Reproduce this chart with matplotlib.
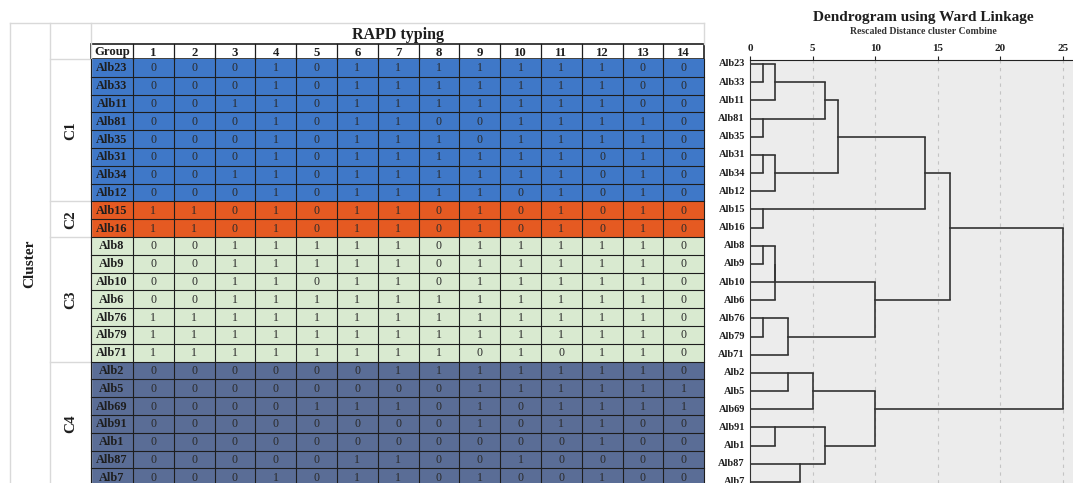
"""RAPD typing table + Ward dendrogram."""
import math

import matplotlib
matplotlib.use("Agg")
import matplotlib.pyplot as plt
from matplotlib.patches import Rectangle

plt.rcParams["font.family"] = ["Liberation Serif", "DejaVu Serif"]

# ---- data -------------------------------------------------------------
groups = ["Alb23", "Alb33", "Alb11", "Alb81", "Alb35", "Alb31", "Alb34", "Alb12",
          "Alb15", "Alb16",
          "Alb8", "Alb9", "Alb10", "Alb6", "Alb76", "Alb79", "Alb71",
          "Alb2", "Alb5", "Alb69", "Alb91", "Alb1", "Alb87", "Alb7"]
cluster_names = ["C1", "C2", "C3", "C4"]
cluster_sizes = [8, 2, 7, 7]
markers = list(range(1, 15))
rapd = [
    "00010111111100", "00010111111100", "00110111111100", "00010110011110",
    "00010111011110", "00010111111010", "00110111111010", "00010111101010",
    "11010110101010", "11010110101010",
    "00111110111110", "00111110111110", "00110110111110", "00111111111110",
    "11111111111110", "11111111111110", "11111111010110",
    "00000011111110", "00000000111111", "00001110101111", "00000000101100",
    "00000000000100", "00000110010000", "00010110100100",
]
# Ward merges: (node_a, node_b, rescaled distance); leaves are 0..23, new clusters 24..
merges = [
    (0, 1, 1), (24, 2, 2), (3, 4, 1), (25, 26, 6), (5, 6, 1), (28, 7, 2),
    (27, 29, 7), (8, 9, 1), (30, 31, 14), (10, 11, 1), (33, 12, 2), (34, 13, 2),
    (14, 15, 1), (36, 16, 3), (35, 37, 10), (32, 38, 16), (17, 18, 3), (40, 19, 5),
    (20, 21, 2), (22, 23, 4), (42, 43, 6), (41, 44, 10), (39, 45, 25),
]
dist_ticks = [0, 5, 10, 15, 20, 25]

# ---- style ------------------------------------------------------------
CLUSTER_COLORS = ["#3f78c8", "#e55a22", "#d9ead0", "#5a6d96"]
FRAME = "#d9d9d9"
INK = "#1e1e1e"
W, H = 1073, 483

fig = plt.figure(figsize=(W / 100, H / 100), dpi=100)
ax = fig.add_axes([0, 0, 1, 1])
ax.set_xlim(0, W)
ax.set_ylim(H, 0)
ax.axis("off")

# table geometry (pixels)
X_CL0, X_CL1, X_GRP = 10, 50, 91
GRP_W, COL_W = 42, 40.8
TOP, HEAD_Y, ROW_Y0, ROW_H = 23, 44, 59, 17.8
X_END = X_GRP + GRP_W + COL_W * len(markers)

# light outer frame
for x in (X_CL0, X_CL1, X_GRP):
    ax.plot([x, x], [TOP, H + 5], color=FRAME, lw=1)
ax.plot([X_CL0, X_END], [TOP, TOP], color=FRAME, lw=1)
ax.plot([X_END, X_END], [TOP, HEAD_Y], color=FRAME, lw=1)
ax.plot([X_CL1, X_GRP], [ROW_Y0, ROW_Y0], color=FRAME, lw=1)

ax.text((X_GRP + X_END) / 2, HEAD_Y - 1, "RAPD typing", ha="center", va="bottom",
        fontsize=11.5, fontweight="bold", color=INK)
ax.text((X_CL0 + X_CL1) / 2, ROW_Y0 + ROW_H * 11.5, "Cluster", rotation=90,
        ha="center", va="center", fontsize=11, fontweight="bold", color=INK)

# header row
col_x = [X_GRP] + [X_GRP + GRP_W + COL_W * i for i in range(len(markers) + 1)]
ax.add_patch(Rectangle((X_GRP, HEAD_Y), X_END - X_GRP, ROW_Y0 - HEAD_Y,
                       facecolor="white", edgecolor=INK, lw=1.2))
ax.text(X_GRP + GRP_W / 2, (HEAD_Y + ROW_Y0) / 2 + 1, "Group", ha="center",
        va="center", fontsize=9.2, fontweight="bold", color=INK)
for i, m in enumerate(markers):
    ax.text(col_x[i + 1] + COL_W / 2, (HEAD_Y + ROW_Y0) / 2 + 1, str(m), ha="center",
            va="center", fontsize=9.2, fontweight="bold", color=INK)
for x in col_x[1:-1]:
    ax.plot([x, x], [HEAD_Y, ROW_Y0], color=INK, lw=0.9)

# body rows
row_color = []
for c, n in zip(CLUSTER_COLORS, cluster_sizes):
    row_color += [c] * n

start = 0
for name, n in zip(cluster_names, cluster_sizes):
    y0 = ROW_Y0 + ROW_H * start
    y1 = ROW_Y0 + ROW_H * (start + n)
    ax.plot([X_CL1, X_GRP], [y1, y1], color=FRAME, lw=1)
    ax.text((X_CL1 + X_GRP) / 2, (y0 + y1) / 2, name, rotation=90, ha="center",
            va="center", fontsize=11, fontweight="bold", color=INK)
    start += n

for r, (g, vals) in enumerate(zip(groups, rapd)):
    y = ROW_Y0 + ROW_H * r
    ax.add_patch(Rectangle((X_GRP, y), X_END - X_GRP, ROW_H,
                           facecolor=row_color[r], edgecolor="none"))
    ax.text(X_GRP + GRP_W / 2, y + ROW_H / 2 + 0.5, g, ha="center", va="center",
            fontsize=8.8, fontweight="bold", color=INK)
    for i, v in enumerate(vals):
        ax.text(col_x[i + 1] + COL_W / 2, y + ROW_H / 2 + 0.5, v, ha="center",
                va="center", fontsize=8.6, color="#2a2a2a")
    ax.plot([X_GRP, X_END], [y + ROW_H, y + ROW_H], color=INK, lw=0.8)
for x in col_x:
    ax.plot([x, x], [ROW_Y0, H + 5], color=INK, lw=0.8)

# ---- dendrogram -------------------------------------------------------
PX_UNIT, ROW_PX, AX_L, AX_T, ROW0 = 12.52, 18.17, 750, 60, 64
dx = fig.add_axes([AX_L / W, 0, (W - AX_L) / W, (H - AX_T) / H])
dx.set_facecolor("#ececec")
dx.set_xlim(0, (W - AX_L) / PX_UNIT)
dx.set_ylim((H - ROW0) / ROW_PX, (AX_T - ROW0) / ROW_PX)
for s in ("right", "bottom"):
    dx.spines[s].set_visible(False)
dx.spines["top"].set_color("#222222")
dx.spines["left"].set_color("#333333")
dx.xaxis.tick_top()
dx.set_xticks(dist_ticks)
dx.set_xticklabels([str(t) for t in dist_ticks], fontsize=8, fontweight="bold")
dx.tick_params(axis="x", length=3, width=0.8, pad=2, colors="#222222")
dx.set_yticks([])
for t in dist_ticks[1:]:
    dx.axvline(t, color="#c4c4c4", lw=0.8, ls=(0, (3, 4)), zorder=0)

n_leaf = len(groups)
row_of = {i: i for i in range(n_leaf)}
height_of = {i: 0 for i in range(n_leaf)}
for k, (a, b, d) in enumerate(merges):
    node = n_leaf + k
    ra, rb = row_of[a], row_of[b]
    dx.plot([d, d], [ra, rb], color="#333333", lw=1.2, solid_capstyle="butt")
    dx.plot([height_of[a], d], [ra, ra], color="#333333", lw=1.2)
    dx.plot([height_of[b], d], [rb, rb], color="#333333", lw=1.2)
    row_of[node] = math.floor((ra + rb) / 2)
    height_of[node] = d

for i, g in enumerate(groups):
    dx.text(-0.4, i, g, ha="right", va="center", fontsize=7.5, fontweight="bold",
            color=INK, clip_on=False)

fig.text(923 / W, 1 - 17 / H, "Dendrogram using Ward Linkage", ha="center",
         va="center", fontsize=11, fontweight="bold", color=INK)
fig.text(923 / W, 1 - 32 / H, "Rescaled Distance cluster Combine", ha="center",
         va="center", fontsize=7, fontweight="bold", color="#333333")

fig.savefig("out.png", dpi=100)
